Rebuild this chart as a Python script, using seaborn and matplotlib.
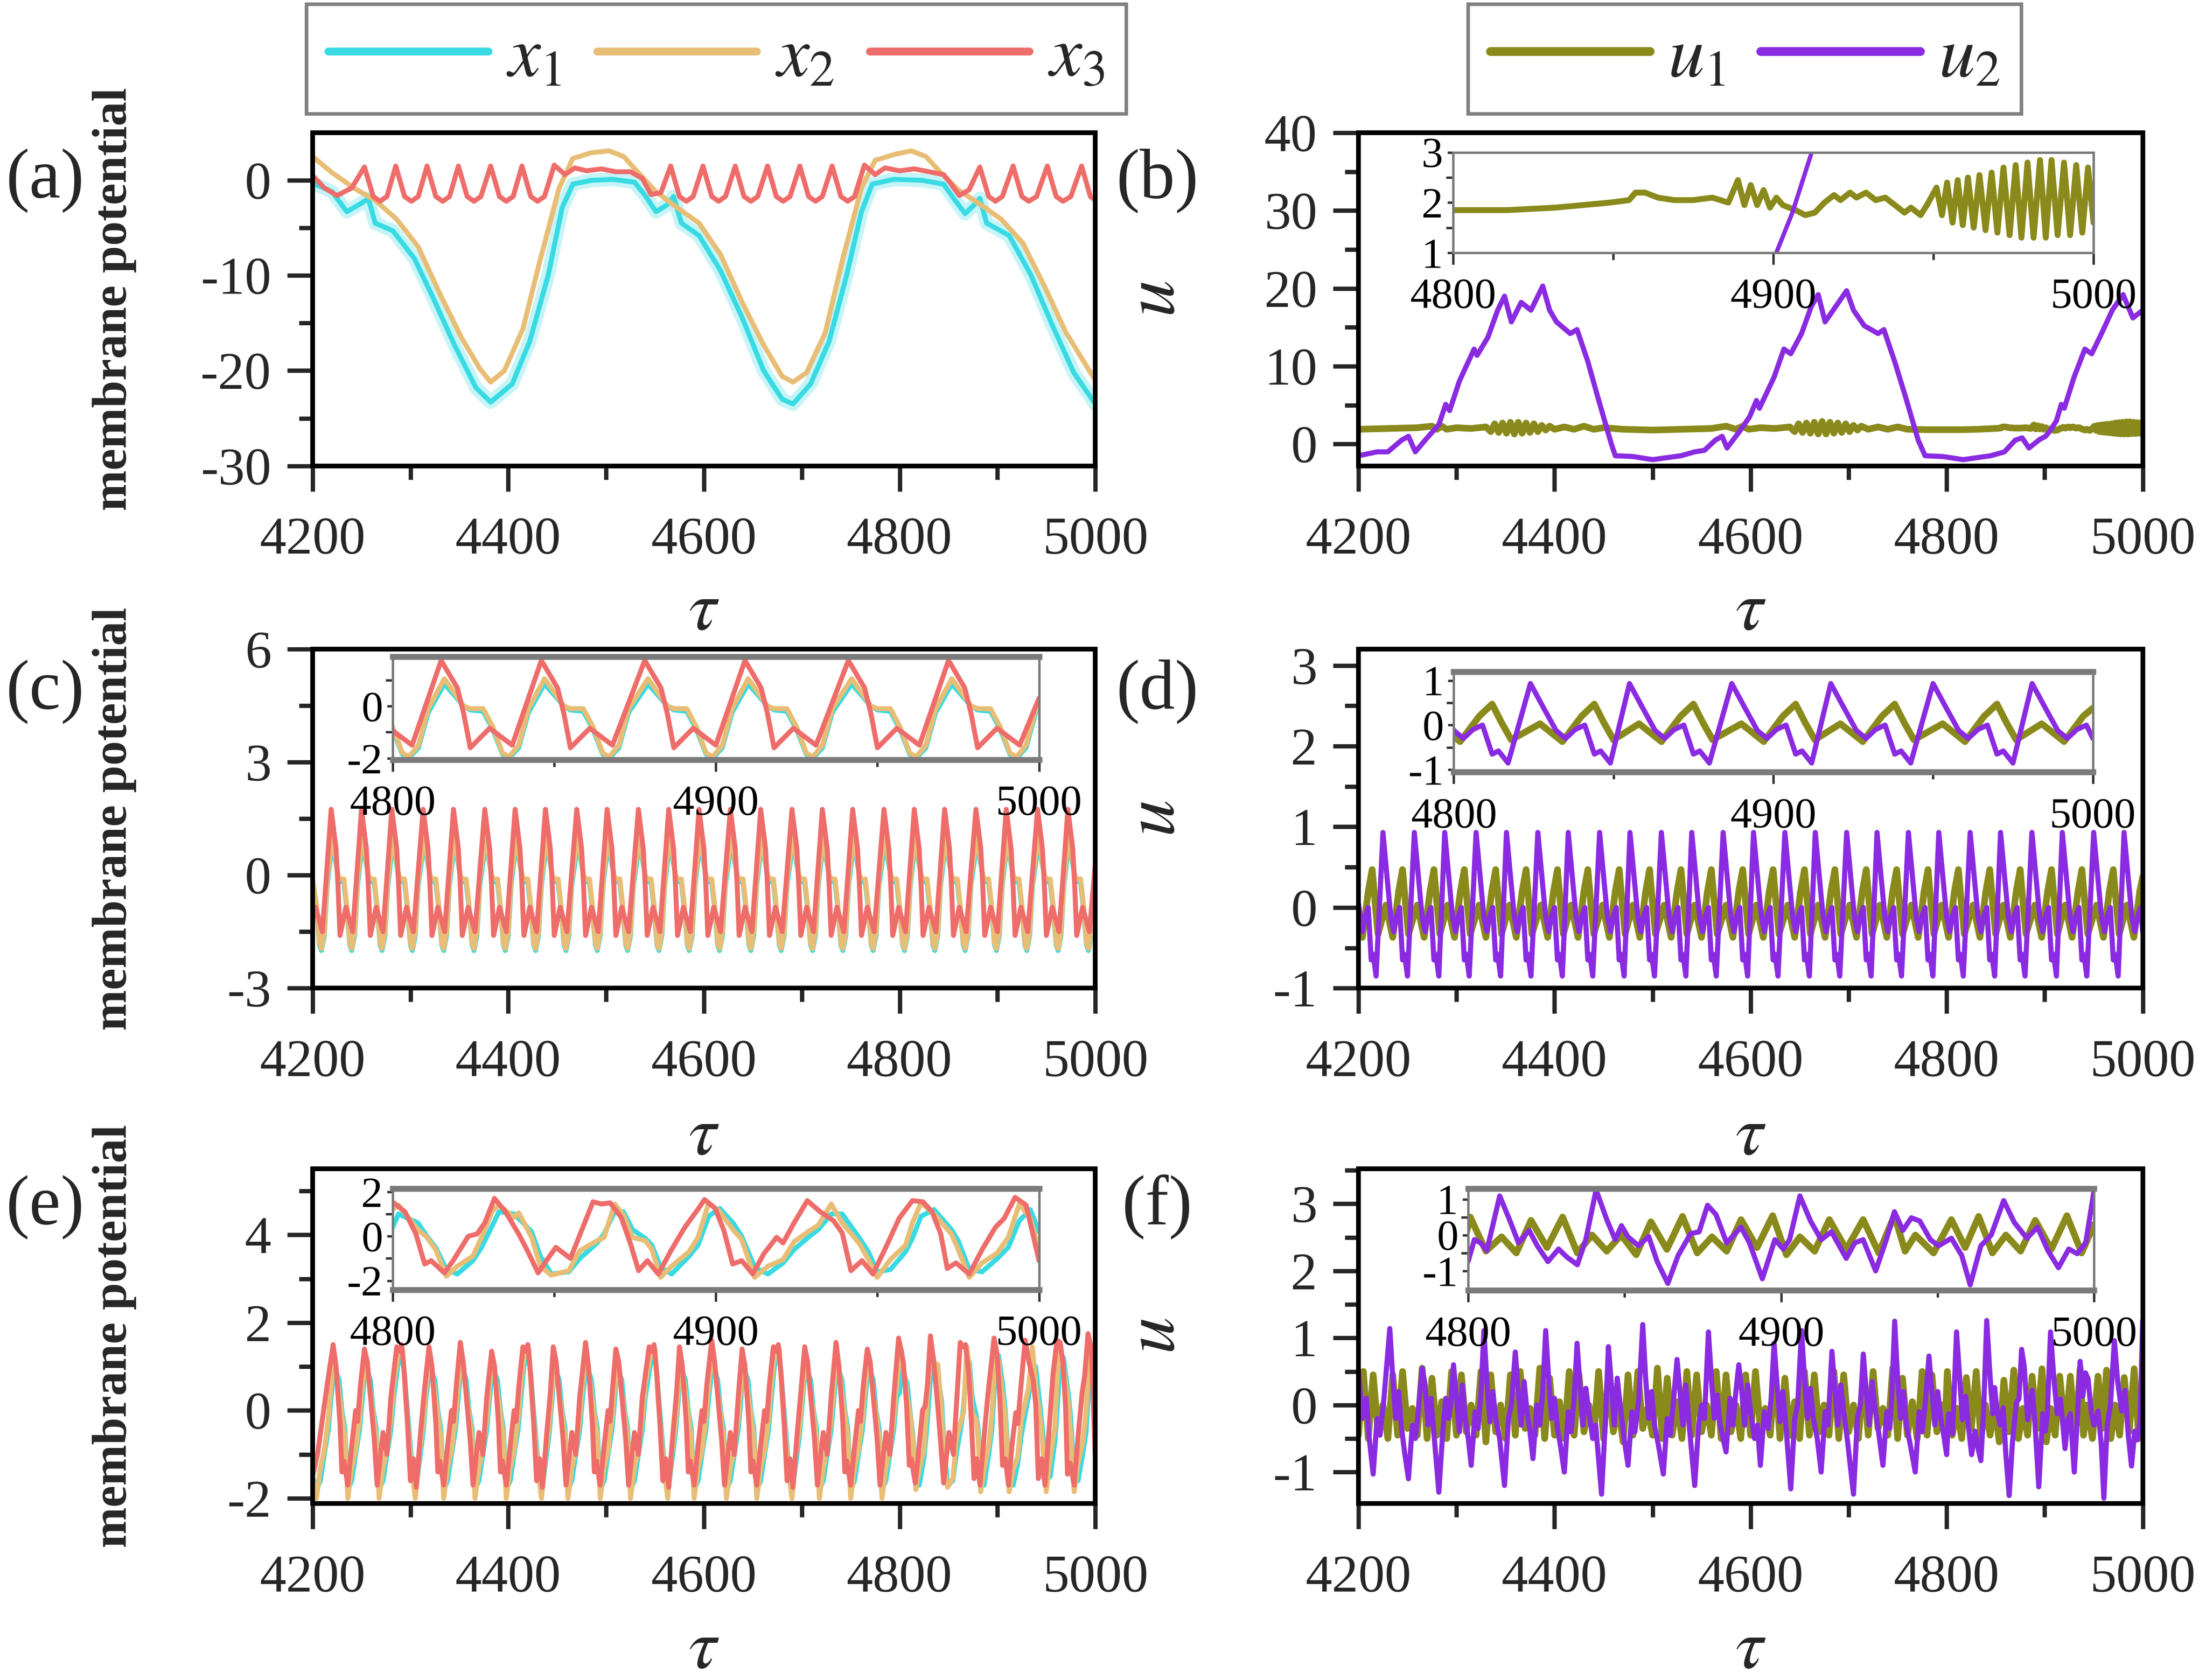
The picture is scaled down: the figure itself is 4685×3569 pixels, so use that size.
import matplotlib
matplotlib.use("Agg")
import matplotlib.pyplot as plt
from matplotlib.lines import Line2D
import numpy as np
import seaborn as sns

# colours picked from the figure
C_X1 = "#38dbe3"
C_X1_GLOW = "#b8f2f5"
C_X2 = "#e8bd76"
C_X3 = "#ee6d6a"
C_U1 = "#8a8a1c"
C_U2 = "#8a2be2"

X_TICKS = [4200, 4400, 4600, 4800, 5000]
X_MINOR = [4300, 4500, 4700, 4900]
INSET_TICKS = [4800, 4900, 5000]
INSET_MINOR = [4850, 4950]
PANEL_LABELS = ["(a)", "(b)", "(c)", "(d)", "(e)", "(f)"]

# ---------------- panel (a): membrane potential, bursting ----------------
T_A_X1 = [4200, 4220, 4235, 4250, 4257, 4264, 4282, 4304, 4323, 4345,
          4367, 4382, 4404, 4422, 4441, 4455, 4466, 4485, 4507, 4529,
          4540, 4551, 4562, 4569, 4577, 4595, 4617, 4639, 4661, 4680,
          4691, 4709, 4728, 4746, 4761, 4772, 4794, 4823, 4845, 4856,
          4867, 4876, 4882, 4889, 4912, 4934, 4956, 4978, 5000]
X1_A = [-0.3, -1.2, -3.3, -2.4, -1.9, -4.5, -5.3, -8.2, -12.3, -17.3,
        -21.8, -23.3, -21.4, -16.9, -9.9, -2.9, -0.4, 0.0, 0.1, -0.2,
        -1.6, -3.3, -2.6, -1.7, -4.5, -5.8, -9.5, -14.4, -20.0, -23.0,
        -23.5, -21.4, -16.9, -9.9, -3.3, -0.4, 0.1, 0.0, -0.4, -2.0,
        -3.5, -2.6, -1.9, -4.5, -5.8, -9.9, -15.2, -20.2, -23.5]
T_A_X2 = [4200, 4220, 4242, 4264, 4286, 4308, 4330, 4352, 4371, 4382,
          4396, 4415, 4433, 4452, 4466, 4485, 4503, 4518, 4533, 4551,
          4573, 4595, 4617, 4639, 4661, 4680, 4691, 4705, 4724, 4742,
          4761, 4775, 4794, 4812, 4827, 4842, 4860, 4882, 4904, 4926,
          4948, 4970, 5000]
X2_A = [2.5, 0.8, -0.8, -2.1, -4.1, -7.0, -11.9, -16.5, -19.8, -21.2,
        -20.0, -15.6, -8.2, -0.8, 2.3, 2.9, 3.1, 2.5, 0.8, -1.2,
        -2.9, -4.5, -7.8, -12.8, -17.3, -20.6, -21.2, -20.2, -16.0, -8.2,
        -0.8, 2.1, 2.7, 3.1, 2.5, 0.8, -1.0, -2.5, -4.1, -6.6,
        -11.1, -16.0, -21.0]
T_A_X3 = [4200, 4212, 4225, 4240, 4253,
          4262, 4269, 4276, 4285,
          4294, 4301, 4308, 4317,
          4326, 4333, 4340, 4349,
          4358, 4365, 4372, 4382,
          4391, 4398, 4405, 4414,
          4423, 4430, 4437, 4447,
          4458, 4468, 4480, 4495, 4510, 4525, 4537, 4546, 4556,
          4566, 4575, 4582, 4589,
          4599, 4608, 4615, 4622,
          4632, 4641, 4648, 4655,
          4665, 4674, 4681, 4688,
          4698, 4707, 4714, 4721,
          4731, 4740, 4747, 4754,
          4764, 4775, 4785, 4800, 4815, 4830, 4845, 4852, 4861, 4871,
          4882, 4891, 4898, 4905,
          4916, 4925, 4932, 4940,
          4951, 4960, 4967, 4975,
          4986, 4995, 5000]
X3_A = [0.5, -0.8, -1.6, -0.8, 1.4,
        -1.7, -2.2, -1.7, 1.5,
        -1.7, -2.2, -1.7, 1.5,
        -1.7, -2.2, -1.7, 1.5,
        -1.7, -2.2, -1.7, 1.5,
        -1.7, -2.2, -1.7, 1.5,
        -1.7, -2.2, -1.7, 1.6,
        0.6, 1.3, 1.0, 1.2, 0.9, 0.9, 0.2, -1.5, -1.3,
        1.5, -1.7, -2.2, -1.7,
        1.5, -1.7, -2.2, -1.7,
        1.5, -1.7, -2.2, -1.7,
        1.5, -1.7, -2.2, -1.7,
        1.5, -1.7, -2.2, -1.7,
        1.5, -1.7, -2.2, -1.7,
        1.6, 0.6, 1.3, 1.0, 1.2, 0.9, 0.6, -0.3, -1.6, -1.0,
        1.4, -1.7, -2.2, -1.7,
        1.5, -1.7, -2.2, -1.7,
        1.5, -1.7, -2.2, -1.7,
        1.5, -1.7, -2.1]

# ---------------- panel (b): u1, u2 ----------------
T_B_U1 = [4200, 4230, 4260, 4275, 4280, 4285, 4290, 4300, 4315, 4330,
          4335, 4339, 4343, 4347, 4351, 4355, 4359, 4363, 4367, 4371, 4375, 4379, 4383, 4387, 4391, 4395, 4400,
          4410, 4420, 4430, 4440, 4450, 4470, 4500, 4530, 4560, 4575, 4585, 4592, 4598, 4610, 4625, 4640,
          4645, 4649, 4653, 4657, 4661, 4665, 4669, 4673, 4677, 4681, 4685, 4689, 4693, 4697, 4701, 4705, 4709, 4713,
          4720, 4730, 4740, 4750, 4760, 4780,
          4800, 4817, 4832, 4849, 4855, 4857, 4860, 4864, 4869, 4875,
          4881, 4886, 4889, 4891, 4893, 4895, 4897, 4899, 4901, 4903,
          4907, 4910, 4913, 4916, 4919, 4921, 4924, 4926, 4929, 4932,
          4935, 4938, 4941, 4943, 4946, 4948,
          4951, 4952.7, 4954.3, 4956, 4957.6, 4959.2, 4960.8, 4962.6, 4964.4, 4966.3,
          4968.2, 4970, 4971.9, 4973.8, 4975.7, 4977.5, 4979.4, 4981.3, 4983.3, 4985.1,
          4986.9, 4988.8, 4990.8, 4992.7, 4994.6, 4996.5, 4998.3, 5000]
U1_B = [1.9, 2.0, 2.1, 2.3, 1.9, 2.3, 1.9, 2.1, 2.0, 2.2,
        1.6, 2.6, 1.5, 2.7, 1.4, 2.8, 1.3, 2.8, 1.4, 2.7, 1.5, 2.6, 1.6, 2.4, 1.8, 2.3, 1.9,
        2.2, 1.9, 2.3, 1.9, 2.1, 1.9, 1.8, 1.9, 2.0, 2.3, 1.9, 2.3, 1.9, 2.1, 2.0, 2.2,
        1.6, 2.6, 1.5, 2.7, 1.4, 2.8, 1.3, 2.9, 1.3, 2.8, 1.4, 2.7, 1.5, 2.6, 1.6, 2.4, 1.8, 2.3,
        1.9, 2.2, 1.9, 2.2, 1.9, 1.85,
        1.85, 1.85, 1.9, 2.0, 2.05, 2.2, 2.2, 2.1, 2.05, 2.05,
        2.1, 2.0, 2.45, 1.95, 2.35, 1.95, 2.25, 1.9, 2.1, 1.95,
        1.85, 1.75, 1.8, 2.0, 2.15, 2.05, 2.2, 2.1, 2.2, 2.05,
        2.1, 1.95, 1.8, 1.9, 1.75, 1.95,
        2.3, 1.75, 2.4, 1.6, 2.45, 1.55, 2.5, 1.5, 2.55, 1.45,
        2.6, 1.4, 2.7, 1.35, 2.75, 1.3, 2.8, 1.3, 2.85, 1.3,
        2.85, 1.35, 2.8, 1.35, 2.75, 1.4, 2.7, 1.6]
T_B_U2 = [4200, 4219, 4230, 4244, 4251, 4258, 4268, 4282, 4289, 4293,
          4303, 4318, 4321, 4332, 4342, 4349, 4356, 4366, 4376, 4388,
          4395, 4402, 4416, 4423, 4434, 4444, 4458, 4462, 4480, 4500,
          4529, 4543, 4553, 4564, 4571, 4576, 4588, 4599, 4606, 4609,
          4624, 4634, 4641, 4652, 4662, 4669, 4676, 4687, 4698, 4705,
          4716, 4730, 4736, 4747, 4758, 4771, 4778, 4796, 4817, 4845,
          4859, 4870, 4877, 4884, 4895, 4901, 4906, 4912, 4917, 4920,
          4930, 4941, 4948, 4958, 4969, 4980, 4990, 5000]
U2_B = [-1.5, -1.0, -1.0, 0.5, 1.0, -1.0, 0.5, 2.5, 5.1, 4.3,
        8.1, 12.2, 11.4, 13.7, 17.2, 19.0, 15.7, 18.2, 17.2, 20.3,
        17.2, 15.7, 14.2, 14.7, 10.6, 6.1, 0.0, -1.5, -1.6, -2.0,
        -1.5, -1.0, -0.8, 0.5, 1.0, -0.5, 1.5, 3.5, 5.6, 4.6,
        8.6, 12.2, 11.6, 14.2, 17.7, 19.2, 15.7, 17.7, 19.7, 17.2,
        15.2, 14.2, 14.7, 10.6, 6.1, 0.5, -1.5, -1.6, -2.0, -1.5,
        -1.0, 0.5, 0.8, -0.5, 0.6, 1.0, 1.8, 3.0, 5.1, 4.6,
        8.6, 12.2, 11.6, 14.2, 17.2, 19.2, 16.2, 17.2]

# ---------------- panel (c): membrane potential, periodic spiking ----------------
T_C_X3 = [4200, 4203, 4210,
          4219, 4224, 4226, 4228, 4234, 4241,
          4250, 4255, 4257, 4259, 4265, 4272,
          4281, 4286, 4288, 4290, 4296, 4303,
          4313, 4318, 4320, 4322, 4328, 4335,
          4344, 4349, 4351, 4353, 4359, 4366,
          4376, 4381, 4383, 4385, 4391, 4398,
          4407, 4412, 4414, 4416, 4422, 4429,
          4438, 4443, 4445, 4447, 4453, 4460,
          4470, 4475, 4477, 4479, 4485, 4492,
          4501, 4506, 4508, 4510, 4516, 4523,
          4533, 4538, 4540, 4542, 4548, 4555,
          4564, 4569, 4571, 4573, 4579, 4586,
          4595, 4600, 4602, 4604, 4610, 4617,
          4627, 4632, 4634, 4636, 4642, 4649,
          4658, 4663, 4665, 4667, 4673, 4680,
          4690, 4695, 4697, 4699, 4705, 4712,
          4721, 4726, 4728, 4730, 4736, 4743,
          4752, 4757, 4759, 4761, 4767, 4774,
          4784, 4789, 4791, 4793, 4799, 4806,
          4815, 4820, 4822, 4824, 4830, 4837,
          4846, 4851, 4853, 4855, 4861, 4868,
          4878, 4883, 4885, 4887, 4893, 4900,
          4909, 4914, 4916, 4918, 4924, 4931,
          4941, 4946, 4948, 4950, 4956, 4963,
          4972, 4977, 4979, 4981, 4987, 4994,
          5000]
X3_C = [-1.2, -0.85, -1.5,
        1.75, 0.7, -0.3, -1.6, -0.85, -1.5,
        1.75, 0.7, -0.3, -1.6, -0.85, -1.5,
        1.75, 0.7, -0.3, -1.6, -0.85, -1.5,
        1.75, 0.7, -0.3, -1.6, -0.85, -1.5,
        1.75, 0.7, -0.3, -1.6, -0.85, -1.5,
        1.75, 0.7, -0.3, -1.6, -0.85, -1.5,
        1.75, 0.7, -0.3, -1.6, -0.85, -1.5,
        1.75, 0.7, -0.3, -1.6, -0.85, -1.5,
        1.75, 0.7, -0.3, -1.6, -0.85, -1.5,
        1.75, 0.7, -0.3, -1.6, -0.85, -1.5,
        1.75, 0.7, -0.3, -1.6, -0.85, -1.5,
        1.75, 0.7, -0.3, -1.6, -0.85, -1.5,
        1.75, 0.7, -0.3, -1.6, -0.85, -1.5,
        1.75, 0.7, -0.3, -1.6, -0.85, -1.5,
        1.75, 0.7, -0.3, -1.6, -0.85, -1.5,
        1.75, 0.7, -0.3, -1.6, -0.85, -1.5,
        1.75, 0.7, -0.3, -1.6, -0.85, -1.5,
        1.75, 0.7, -0.3, -1.6, -0.85, -1.5,
        1.75, 0.7, -0.3, -1.6, -0.85, -1.5,
        1.75, 0.7, -0.3, -1.6, -0.85, -1.5,
        1.75, 0.7, -0.3, -1.6, -0.85, -1.5,
        1.75, 0.7, -0.3, -1.6, -0.85, -1.5,
        1.75, 0.7, -0.3, -1.6, -0.85, -1.5,
        1.75, 0.7, -0.3, -1.6, -0.85, -1.5,
        1.75, 0.7, -0.3, -1.6, -0.85, -1.5,
        0.3]
# x1 and x2 share the same sample times in (c)
T_C_X12 = [4200, 4204, 4207, 4209, 4212, 4215,
           4220, 4226, 4228, 4232, 4235, 4238, 4240, 4243, 4246,
           4251, 4257, 4259, 4263, 4266, 4269, 4271, 4274, 4277,
           4282, 4288, 4290, 4294, 4297, 4300, 4302, 4305, 4308,
           4314, 4320, 4322, 4326, 4329, 4332, 4334, 4337, 4340,
           4345, 4351, 4353, 4357, 4360, 4363, 4365, 4368, 4371,
           4377, 4383, 4385, 4389, 4392, 4395, 4397, 4400, 4403,
           4408, 4414, 4416, 4420, 4423, 4426, 4428, 4431, 4434,
           4439, 4445, 4447, 4451, 4454, 4457, 4459, 4462, 4465,
           4471, 4477, 4479, 4483, 4486, 4489, 4491, 4494, 4497,
           4502, 4508, 4510, 4514, 4517, 4520, 4522, 4525, 4528,
           4534, 4540, 4542, 4546, 4549, 4552, 4554, 4557, 4560,
           4565, 4571, 4573, 4577, 4580, 4583, 4585, 4588, 4591,
           4596, 4602, 4604, 4608, 4611, 4614, 4616, 4619, 4622,
           4628, 4634, 4636, 4640, 4643, 4646, 4648, 4651, 4654,
           4659, 4665, 4667, 4671, 4674, 4677, 4679, 4682, 4685,
           4691, 4697, 4699, 4703, 4706, 4709, 4711, 4714, 4717,
           4722, 4728, 4730, 4734, 4737, 4740, 4742, 4745, 4748,
           4753, 4759, 4761, 4765, 4768, 4771, 4773, 4776, 4779,
           4785, 4791, 4793, 4797, 4800, 4803, 4805, 4808, 4811,
           4816, 4822, 4824, 4828, 4831, 4834, 4836, 4839, 4842,
           4847, 4853, 4855, 4859, 4862, 4865, 4867, 4870, 4873,
           4879, 4885, 4887, 4891, 4894, 4897, 4899, 4902, 4905,
           4910, 4916, 4918, 4922, 4925, 4928, 4930, 4933, 4936,
           4942, 4948, 4950, 4954, 4957, 4960, 4962, 4965, 4968,
           4973, 4979, 4981, 4985, 4988, 4991, 4993, 4996, 4999,
           5000]
X2_C = [-0.1, -0.8, -1.8, -1.95, -1.5, -0.1,
        1.05, 0.0, -0.1, -0.1, -0.8, -1.8, -1.95, -1.5, -0.1,
        1.05, 0.0, -0.1, -0.1, -0.8, -1.8, -1.95, -1.5, -0.1,
        1.05, 0.0, -0.1, -0.1, -0.8, -1.8, -1.95, -1.5, -0.1,
        1.05, 0.0, -0.1, -0.1, -0.8, -1.8, -1.95, -1.5, -0.1,
        1.05, 0.0, -0.1, -0.1, -0.8, -1.8, -1.95, -1.5, -0.1,
        1.05, 0.0, -0.1, -0.1, -0.8, -1.8, -1.95, -1.5, -0.1,
        1.05, 0.0, -0.1, -0.1, -0.8, -1.8, -1.95, -1.5, -0.1,
        1.05, 0.0, -0.1, -0.1, -0.8, -1.8, -1.95, -1.5, -0.1,
        1.05, 0.0, -0.1, -0.1, -0.8, -1.8, -1.95, -1.5, -0.1,
        1.05, 0.0, -0.1, -0.1, -0.8, -1.8, -1.95, -1.5, -0.1,
        1.05, 0.0, -0.1, -0.1, -0.8, -1.8, -1.95, -1.5, -0.1,
        1.05, 0.0, -0.1, -0.1, -0.8, -1.8, -1.95, -1.5, -0.1,
        1.05, 0.0, -0.1, -0.1, -0.8, -1.8, -1.95, -1.5, -0.1,
        1.05, 0.0, -0.1, -0.1, -0.8, -1.8, -1.95, -1.5, -0.1,
        1.05, 0.0, -0.1, -0.1, -0.8, -1.8, -1.95, -1.5, -0.1,
        1.05, 0.0, -0.1, -0.1, -0.8, -1.8, -1.95, -1.5, -0.1,
        1.05, 0.0, -0.1, -0.1, -0.8, -1.8, -1.95, -1.5, -0.1,
        1.05, 0.0, -0.1, -0.1, -0.8, -1.8, -1.95, -1.5, -0.1,
        1.05, 0.0, -0.1, -0.1, -0.8, -1.8, -1.95, -1.5, -0.1,
        1.05, 0.0, -0.1, -0.1, -0.8, -1.8, -1.95, -1.5, -0.1,
        1.05, 0.0, -0.1, -0.1, -0.8, -1.8, -1.95, -1.5, -0.1,
        1.05, 0.0, -0.1, -0.1, -0.8, -1.8, -1.95, -1.5, -0.1,
        1.05, 0.0, -0.1, -0.1, -0.8, -1.8, -1.95, -1.5, -0.1,
        1.05, 0.0, -0.1, -0.1, -0.8, -1.8, -1.95, -1.5, -0.1,
        1.05, 0.0, -0.1, -0.1, -0.8, -1.8, -1.95, -1.5, -0.1,
        0.1]
X1_C = [-0.2, -0.9, -1.85, -2.0, -1.6, -0.25,
        0.85, 0.0, -0.15, -0.2, -0.9, -1.85, -2.0, -1.6, -0.25,
        0.85, 0.0, -0.15, -0.2, -0.9, -1.85, -2.0, -1.6, -0.25,
        0.85, 0.0, -0.15, -0.2, -0.9, -1.85, -2.0, -1.6, -0.25,
        0.85, 0.0, -0.15, -0.2, -0.9, -1.85, -2.0, -1.6, -0.25,
        0.85, 0.0, -0.15, -0.2, -0.9, -1.85, -2.0, -1.6, -0.25,
        0.85, 0.0, -0.15, -0.2, -0.9, -1.85, -2.0, -1.6, -0.25,
        0.85, 0.0, -0.15, -0.2, -0.9, -1.85, -2.0, -1.6, -0.25,
        0.85, 0.0, -0.15, -0.2, -0.9, -1.85, -2.0, -1.6, -0.25,
        0.85, 0.0, -0.15, -0.2, -0.9, -1.85, -2.0, -1.6, -0.25,
        0.85, 0.0, -0.15, -0.2, -0.9, -1.85, -2.0, -1.6, -0.25,
        0.85, 0.0, -0.15, -0.2, -0.9, -1.85, -2.0, -1.6, -0.25,
        0.85, 0.0, -0.15, -0.2, -0.9, -1.85, -2.0, -1.6, -0.25,
        0.85, 0.0, -0.15, -0.2, -0.9, -1.85, -2.0, -1.6, -0.25,
        0.85, 0.0, -0.15, -0.2, -0.9, -1.85, -2.0, -1.6, -0.25,
        0.85, 0.0, -0.15, -0.2, -0.9, -1.85, -2.0, -1.6, -0.25,
        0.85, 0.0, -0.15, -0.2, -0.9, -1.85, -2.0, -1.6, -0.25,
        0.85, 0.0, -0.15, -0.2, -0.9, -1.85, -2.0, -1.6, -0.25,
        0.85, 0.0, -0.15, -0.2, -0.9, -1.85, -2.0, -1.6, -0.25,
        0.85, 0.0, -0.15, -0.2, -0.9, -1.85, -2.0, -1.6, -0.25,
        0.85, 0.0, -0.15, -0.2, -0.9, -1.85, -2.0, -1.6, -0.25,
        0.85, 0.0, -0.15, -0.2, -0.9, -1.85, -2.0, -1.6, -0.25,
        0.85, 0.0, -0.15, -0.2, -0.9, -1.85, -2.0, -1.6, -0.25,
        0.85, 0.0, -0.15, -0.2, -0.9, -1.85, -2.0, -1.6, -0.25,
        0.85, 0.0, -0.15, -0.2, -0.9, -1.85, -2.0, -1.6, -0.25,
        0.85, 0.0, -0.15, -0.2, -0.9, -1.85, -2.0, -1.6, -0.25,
        0.0]

# ---------------- panel (d): u1, u2 periodic ----------------
T_D_U2 = [4200, 4204, 4207, 4210, 4213, 4215, 4218,
          4225, 4229, 4233, 4236, 4239, 4242, 4245, 4247, 4250,
          4257, 4261, 4265, 4268, 4271, 4274, 4277, 4279, 4282,
          4288, 4292, 4296, 4299, 4302, 4305, 4308, 4310, 4313,
          4320, 4324, 4328, 4331, 4334, 4337, 4340, 4342, 4345,
          4351, 4355, 4359, 4362, 4365, 4368, 4371, 4373, 4376,
          4383, 4387, 4391, 4394, 4397, 4400, 4403, 4405, 4408,
          4414, 4418, 4422, 4425, 4428, 4431, 4434, 4436, 4439,
          4446, 4450, 4454, 4457, 4460, 4463, 4466, 4468, 4471,
          4477, 4481, 4485, 4488, 4491, 4494, 4497, 4499, 4502,
          4509, 4513, 4517, 4520, 4523, 4526, 4529, 4531, 4534,
          4540, 4544, 4548, 4551, 4554, 4557, 4560, 4562, 4565,
          4572, 4576, 4580, 4583, 4586, 4589, 4592, 4594, 4597,
          4603, 4607, 4611, 4614, 4617, 4620, 4623, 4625, 4628,
          4635, 4639, 4643, 4646, 4649, 4652, 4655, 4657, 4660,
          4666, 4670, 4674, 4677, 4680, 4683, 4686, 4688, 4691,
          4698, 4702, 4706, 4709, 4712, 4715, 4718, 4720, 4723,
          4729, 4733, 4737, 4740, 4743, 4746, 4749, 4751, 4754,
          4761, 4765, 4769, 4772, 4775, 4778, 4781, 4783, 4786,
          4792, 4796, 4800, 4803, 4806, 4809, 4812, 4814, 4817,
          4824, 4828, 4832, 4835, 4838, 4841, 4844, 4846, 4849,
          4855, 4859, 4863, 4866, 4869, 4872, 4875, 4877, 4880,
          4887, 4891, 4895, 4898, 4901, 4904, 4907, 4909, 4912,
          4918, 4922, 4926, 4929, 4932, 4935, 4938, 4940, 4943,
          4950, 4954, 4958, 4961, 4964, 4967, 4970, 4972, 4975,
          4981, 4985, 4989, 4992, 4995, 4998, 5000]
U2_D = [0.05, -0.3, -0.1, 0.0, -0.65, -0.58, -0.85,
        0.93, 0.4, -0.12, -0.3, -0.1, 0.0, -0.65, -0.58, -0.85,
        0.93, 0.4, -0.12, -0.3, -0.1, 0.0, -0.65, -0.58, -0.85,
        0.93, 0.4, -0.12, -0.3, -0.1, 0.0, -0.65, -0.58, -0.85,
        0.93, 0.4, -0.12, -0.3, -0.1, 0.0, -0.65, -0.58, -0.85,
        0.93, 0.4, -0.12, -0.3, -0.1, 0.0, -0.65, -0.58, -0.85,
        0.93, 0.4, -0.12, -0.3, -0.1, 0.0, -0.65, -0.58, -0.85,
        0.93, 0.4, -0.12, -0.3, -0.1, 0.0, -0.65, -0.58, -0.85,
        0.93, 0.4, -0.12, -0.3, -0.1, 0.0, -0.65, -0.58, -0.85,
        0.93, 0.4, -0.12, -0.3, -0.1, 0.0, -0.65, -0.58, -0.85,
        0.93, 0.4, -0.12, -0.3, -0.1, 0.0, -0.65, -0.58, -0.85,
        0.93, 0.4, -0.12, -0.3, -0.1, 0.0, -0.65, -0.58, -0.85,
        0.93, 0.4, -0.12, -0.3, -0.1, 0.0, -0.65, -0.58, -0.85,
        0.93, 0.4, -0.12, -0.3, -0.1, 0.0, -0.65, -0.58, -0.85,
        0.93, 0.4, -0.12, -0.3, -0.1, 0.0, -0.65, -0.58, -0.85,
        0.93, 0.4, -0.12, -0.3, -0.1, 0.0, -0.65, -0.58, -0.85,
        0.93, 0.4, -0.12, -0.3, -0.1, 0.0, -0.65, -0.58, -0.85,
        0.93, 0.4, -0.12, -0.3, -0.1, 0.0, -0.65, -0.58, -0.85,
        0.93, 0.4, -0.12, -0.3, -0.1, 0.0, -0.65, -0.58, -0.85,
        0.93, 0.4, -0.12, -0.3, -0.1, 0.0, -0.65, -0.58, -0.85,
        0.93, 0.4, -0.12, -0.3, -0.1, 0.0, -0.65, -0.58, -0.85,
        0.93, 0.4, -0.12, -0.3, -0.1, 0.0, -0.65, -0.58, -0.85,
        0.93, 0.4, -0.12, -0.3, -0.1, 0.0, -0.65, -0.58, -0.85,
        0.93, 0.4, -0.12, -0.3, -0.1, 0.0, -0.65, -0.58, -0.85,
        0.93, 0.4, -0.12, -0.3, -0.1, 0.0, -0.65, -0.58, -0.85,
        0.93, 0.4, -0.12, -0.3, -0.1, 0.0, -0.3]
T_D_U1 = [4200, 4204, 4210, 4214, 4217, 4220,
          4228, 4235, 4241, 4245, 4248, 4251,
          4260, 4267, 4273, 4277, 4280, 4283,
          4291, 4298, 4304, 4308, 4311, 4314,
          4323, 4330, 4336, 4340, 4343, 4346,
          4354, 4361, 4367, 4371, 4374, 4377,
          4386, 4393, 4399, 4403, 4406, 4409,
          4417, 4424, 4430, 4434, 4437, 4440,
          4449, 4456, 4462, 4466, 4469, 4472,
          4480, 4487, 4493, 4497, 4500, 4503,
          4512, 4519, 4525, 4529, 4532, 4535,
          4543, 4550, 4556, 4560, 4563, 4566,
          4575, 4582, 4588, 4592, 4595, 4598,
          4606, 4613, 4619, 4623, 4626, 4629,
          4638, 4645, 4651, 4655, 4658, 4661,
          4669, 4676, 4682, 4686, 4689, 4692,
          4701, 4708, 4714, 4718, 4721, 4724,
          4732, 4739, 4745, 4749, 4752, 4755,
          4764, 4771, 4777, 4781, 4784, 4787,
          4795, 4802, 4808, 4812, 4815, 4818,
          4827, 4834, 4840, 4844, 4847, 4850,
          4858, 4865, 4871, 4875, 4878, 4881,
          4890, 4897, 4903, 4907, 4910, 4913,
          4921, 4928, 4934, 4938, 4941, 4944,
          4953, 4960, 4966, 4970, 4973, 4976,
          4984, 4991, 4997, 5000]
U1_D = [-0.15, -0.37, 0.2, 0.47, 0.05, -0.33,
        0.03, -0.37, 0.2, 0.47, 0.05, -0.33,
        0.03, -0.37, 0.2, 0.47, 0.05, -0.33,
        0.03, -0.37, 0.2, 0.47, 0.05, -0.33,
        0.03, -0.37, 0.2, 0.47, 0.05, -0.33,
        0.03, -0.37, 0.2, 0.47, 0.05, -0.33,
        0.03, -0.37, 0.2, 0.47, 0.05, -0.33,
        0.03, -0.37, 0.2, 0.47, 0.05, -0.33,
        0.03, -0.37, 0.2, 0.47, 0.05, -0.33,
        0.03, -0.37, 0.2, 0.47, 0.05, -0.33,
        0.03, -0.37, 0.2, 0.47, 0.05, -0.33,
        0.03, -0.37, 0.2, 0.47, 0.05, -0.33,
        0.03, -0.37, 0.2, 0.47, 0.05, -0.33,
        0.03, -0.37, 0.2, 0.47, 0.05, -0.33,
        0.03, -0.37, 0.2, 0.47, 0.05, -0.33,
        0.03, -0.37, 0.2, 0.47, 0.05, -0.33,
        0.03, -0.37, 0.2, 0.47, 0.05, -0.33,
        0.03, -0.37, 0.2, 0.47, 0.05, -0.33,
        0.03, -0.37, 0.2, 0.47, 0.05, -0.33,
        0.03, -0.37, 0.2, 0.47, 0.05, -0.33,
        0.03, -0.37, 0.2, 0.47, 0.05, -0.33,
        0.03, -0.37, 0.2, 0.47, 0.05, -0.33,
        0.03, -0.37, 0.2, 0.47, 0.05, -0.33,
        0.03, -0.37, 0.2, 0.47, 0.05, -0.33,
        0.03, -0.37, 0.2, 0.47, 0.05, -0.33,
        0.03, -0.37, 0.2, 0.38]

# ---------------- panel (e): membrane potential, irregular ----------------
T_E_X3 = [4200, 4205, 4210, 4215,
          4221, 4224, 4228, 4230, 4232, 4236, 4240, 4244, 4246, 4249,
          4253, 4256, 4260, 4263, 4266, 4269, 4272, 4276, 4280,
          4286, 4289, 4291, 4294, 4297, 4300, 4303, 4306, 4310, 4314,
          4319, 4322, 4326, 4328, 4330, 4334, 4338, 4342, 4344, 4347,
          4351, 4354, 4358, 4361, 4364, 4367, 4370, 4374, 4378,
          4383, 4386, 4390, 4392, 4394, 4398, 4402, 4406, 4408, 4411,
          4415, 4418, 4420, 4423, 4426, 4429, 4432, 4435, 4439, 4443,
          4446, 4449, 4453, 4456, 4459, 4462, 4465, 4469, 4473,
          4479, 4482, 4486, 4488, 4490, 4494, 4498, 4502, 4504, 4507,
          4510, 4513, 4517, 4520, 4523, 4526, 4529, 4533, 4537,
          4544, 4547, 4549, 4552, 4555, 4558, 4561, 4564, 4568, 4572,
          4575, 4578, 4582, 4584, 4586, 4590, 4594, 4598, 4600, 4603,
          4608, 4611, 4615, 4618, 4621, 4624, 4627, 4631, 4635,
          4639, 4642, 4646, 4648, 4650, 4654, 4658, 4662, 4664, 4667,
          4671, 4674, 4676, 4679, 4682, 4685, 4688, 4691, 4695, 4699,
          4703, 4706, 4710, 4713, 4716, 4719, 4722, 4726, 4730,
          4735, 4738, 4742, 4744, 4746, 4750, 4754, 4758, 4760, 4763,
          4767, 4770, 4774, 4777, 4780, 4783, 4786, 4790, 4794,
          4799, 4803.8, 4807.2, 4809.9, 4811.9, 4816, 4818.7, 4823.4, 4826.1, 4828.5,
          4831.5, 4834.9, 4839, 4841.7, 4845, 4847.8, 4850.5, 4855, 4862, 4864.6,
          4867.3, 4870.7, 4873.5, 4876.1, 4878.8, 4882.2, 4886.3, 4890.4, 4894.4, 4896.5,
          4899.8, 4902.5, 4905.2, 4908, 4911.4, 4914.8, 4918.8, 4920.8, 4924.2, 4928.3,
          4932.3, 4936.4, 4939.1, 4941.8, 4945.2, 4948.6, 4952.6, 4956.7, 4960.8, 4964.1,
          4966.9, 4969.6, 4971.6, 4974.3, 4978.4, 4982.4, 4986.5, 4989.2, 4992.6, 4996,
          5000]
X3_E = [-1.5, -1.0, -0.2, 0.6,
        1.5, 1.0, -0.3, -1.4, -1.15, -1.7, -0.8, 0.0, -0.25, 0.6,
        1.4, 1.1, 0.1, -0.65, -1.7, -1.1, -0.5, -1.0, 0.3,
        1.45, 1.35, 1.5, 0.8, -0.3, -1.6, -1.1, -1.75, -0.6, 0.4,
        1.45, 1.0, -0.3, -1.4, -1.15, -1.7, -0.8, 0.0, -0.25, 0.6,
        1.55, 1.1, 0.1, -0.65, -1.7, -1.1, -0.5, -1.0, 0.3,
        1.35, 1.0, -0.3, -1.4, -1.15, -1.7, -0.8, 0.0, -0.25, 0.6,
        1.45, 1.35, 1.5, 0.8, -0.3, -1.6, -1.1, -1.75, -0.6, 0.4,
        1.45, 1.1, 0.1, -0.65, -1.7, -1.1, -0.5, -1.0, 0.3,
        1.55, 1.0, -0.3, -1.4, -1.15, -1.7, -0.8, 0.0, -0.25, 0.6,
        1.4, 1.1, 0.1, -0.65, -1.7, -1.1, -0.5, -1.0, 0.3,
        1.45, 1.35, 1.5, 0.8, -0.3, -1.6, -1.1, -1.75, -0.6, 0.4,
        1.45, 1.0, -0.3, -1.4, -1.15, -1.7, -0.8, 0.0, -0.25, 0.6,
        1.6, 1.1, 0.1, -0.65, -1.7, -1.1, -0.5, -1.0, 0.3,
        1.4, 1.0, -0.3, -1.4, -1.15, -1.7, -0.8, 0.0, -0.25, 0.6,
        1.45, 1.35, 1.5, 0.8, -0.3, -1.6, -1.1, -1.75, -0.6, 0.4,
        1.45, 1.1, 0.1, -0.65, -1.7, -1.1, -0.5, -1.0, 0.3,
        1.55, 1.0, -0.3, -1.4, -1.15, -1.7, -0.8, 0.0, -0.25, 0.6,
        1.4, 1.1, 0.1, -0.65, -1.7, -1.1, -0.5, -1.0, 0.3,
        1.65, 1.1, 0.1, -1.25, -1.1, -1.65, -1.1, 0.0, 0.1, 0.6,
        1.7, 1.1, 0.1, -0.65, -1.65, -1.05, -0.5, -1.0, 1.55, 1.45,
        1.5, 0.85, -0.3, -1.55, -1.1, -1.7, -0.6, 0.4, 1.2, 1.65,
        1.25, 0.25, -1.25, -1.1, -1.7, -0.8, -0.05, -0.3, 0.6, 1.6,
        1.1, 0.7, 0.15, -1.55, -1.1, -1.7, -0.5, 0.8, 1.6, 1.55,
        1.1, 0.1, -1.45, -1.2, -1.7, -0.6, 0.4, 0.8, 1.75, 1.4,
        -1.1]
# x1 and x2 share the same sample times in (e)
T_E_X12 = [4200, 4204, 4208, 4212, 4216, 4219,
           4222, 4227, 4230, 4233, 4236, 4240, 4244, 4248, 4251,
           4254, 4259, 4262, 4265, 4268, 4272, 4276, 4280, 4283,
           4287, 4292, 4295, 4298, 4301, 4305, 4309, 4313, 4316,
           4320, 4325, 4328, 4331, 4334, 4338, 4342, 4346, 4349,
           4352, 4357, 4360, 4363, 4366, 4370, 4374, 4378, 4381,
           4384, 4389, 4392, 4395, 4398, 4402, 4406, 4410, 4413,
           4416, 4421, 4424, 4427, 4430, 4434, 4438, 4442, 4445,
           4447, 4452, 4455, 4458, 4461, 4465, 4469, 4473, 4476,
           4480, 4485, 4488, 4491, 4494, 4498, 4502, 4506, 4509,
           4511, 4516, 4519, 4522, 4525, 4529, 4533, 4537, 4540,
           4545, 4550, 4553, 4556, 4559, 4563, 4567, 4571, 4574,
           4576, 4581, 4584, 4587, 4590, 4594, 4598, 4602, 4605,
           4609, 4614, 4617, 4620, 4623, 4627, 4631, 4635, 4638,
           4640, 4645, 4648, 4651, 4654, 4658, 4662, 4666, 4669,
           4672, 4677, 4680, 4683, 4686, 4690, 4694, 4698, 4701,
           4704, 4709, 4712, 4715, 4718, 4722, 4726, 4730, 4733,
           4736, 4741, 4744, 4747, 4750, 4754, 4758, 4762, 4765,
           4768, 4773, 4776, 4779, 4782, 4786, 4790, 4794, 4797,
           4800.0, 4801.8, 4807.8, 4810.6, 4813.3, 4816.6, 4820.0, 4824.8, 4827.5, 4830.9,
           4832.9, 4837.6, 4839.0, 4843.0, 4845.7, 4849.1, 4854.5, 4857.9, 4863.3, 4865.4,
           4868.7, 4871.4, 4874.2, 4878.2, 4880.2, 4882.9, 4886.3, 4891.7, 4894.5, 4897.8,
           4901.2, 4905.3, 4908.0, 4912.0, 4916.1, 4920.8, 4924.2, 4929.0, 4931.7, 4935.7,
           4939.1, 4944.5, 4947.2, 4949.9, 4954.0, 4958.7, 4960.8, 4963.5, 4967.5, 4972.9,
           4975.0, 4978.4, 4982.4, 4987.1, 4990.5, 4993.9, 4997.3, 5000.0]
X2_E = [-1.6, -2.0, -1.3, -0.9, -0.2, 0.6,
        1.3, 0.4, -0.1, -0.6, -2.0, -1.3, -0.9, -0.2, 0.6,
        1.25, 0.4, -0.1, -0.6, -2.0, -1.3, -0.9, -0.2, 0.6,
        1.2, 1.4, 0.3, -0.5, -1.3, -2.0, -1.0, -0.3, 0.5,
        1.3, 0.4, -0.1, -0.6, -2.0, -1.3, -0.9, -0.2, 0.6,
        1.35, 0.4, -0.1, -0.6, -2.0, -1.3, -0.9, -0.2, 0.6,
        1.2, 0.4, -0.1, -0.6, -2.0, -1.3, -0.9, -0.2, 0.6,
        1.2, 1.4, 0.3, -0.5, -1.3, -2.0, -1.0, -0.3, 0.5,
        1.3, 0.4, -0.1, -0.6, -2.0, -1.3, -0.9, -0.2, 0.6,
        1.35, 0.4, -0.1, -0.6, -2.0, -1.3, -0.9, -0.2, 0.6,
        1.25, 0.4, -0.1, -0.6, -2.0, -1.3, -0.9, -0.2, 0.6,
        1.2, 1.4, 0.3, -0.5, -1.3, -2.0, -1.0, -0.3, 0.5,
        1.3, 0.4, -0.1, -0.6, -2.0, -1.3, -0.9, -0.2, 0.6,
        1.4, 0.4, -0.1, -0.6, -2.0, -1.3, -0.9, -0.2, 0.6,
        1.25, 0.4, -0.1, -0.6, -2.0, -1.3, -0.9, -0.2, 0.6,
        1.2, 1.4, 0.3, -0.5, -1.3, -2.0, -1.0, -0.3, 0.5,
        1.3, 0.4, -0.1, -0.6, -2.0, -1.3, -0.9, -0.2, 0.6,
        1.35, 0.4, -0.1, -0.6, -2.0, -1.3, -0.9, -0.2, 0.6,
        1.25, 0.4, -0.1, -0.6, -2.0, -1.3, -0.9, -0.2, 0.6,
        1.2, 1.4, 0.3, -0.05, -0.6, -1.8, -1.35, -0.9, -0.05, 1.15,
        1.4, 0.85, 1.05, -0.05, -1.35, -1.75, -1.55, -0.65, -0.2, -0.05,
        1.45, 0.95, -0.05, -0.2, -0.6, -1.85, -1.35, -0.7, -0.05, 1.5,
        1.1, 0.3, -0.15, -1.85, -1.35, -1.05, -0.25, 0.25, 0.5, 1.45,
        0.6, -0.35, -1.05, -1.85, -1.05, -0.4, 0.6, 1.5, 1.0, 0.1,
        -0.6, -1.85, -1.2, -0.75, -0.05, 1.45, 0.8, -0.6]
X1_E = [-1.5, -1.8, -1.6, -1.0, -0.45, 0.3,
        1.0, 0.7, 0.0, -0.4, -1.8, -1.6, -1.0, -0.45, 0.3,
        1.0, 0.7, 0.0, -0.4, -1.8, -1.6, -1.0, -0.45, 0.3,
        1.0, 1.3, 0.5, -0.3, -1.1, -1.9, -1.2, -0.5, 0.3,
        1.0, 0.7, 0.0, -0.4, -1.8, -1.6, -1.0, -0.45, 0.3,
        1.05, 0.7, 0.0, -0.4, -1.8, -1.6, -1.0, -0.45, 0.3,
        0.95, 0.7, 0.0, -0.4, -1.8, -1.6, -1.0, -0.45, 0.3,
        1.0, 1.3, 0.5, -0.3, -1.1, -1.9, -1.2, -0.5, 0.3,
        1.0, 0.7, 0.0, -0.4, -1.8, -1.6, -1.0, -0.45, 0.3,
        1.05, 0.7, 0.0, -0.4, -1.8, -1.6, -1.0, -0.45, 0.3,
        1.0, 0.7, 0.0, -0.4, -1.8, -1.6, -1.0, -0.45, 0.3,
        1.0, 1.3, 0.5, -0.3, -1.1, -1.9, -1.2, -0.5, 0.3,
        1.0, 0.7, 0.0, -0.4, -1.8, -1.6, -1.0, -0.45, 0.3,
        1.1, 0.7, 0.0, -0.4, -1.8, -1.6, -1.0, -0.45, 0.3,
        1.0, 0.7, 0.0, -0.4, -1.8, -1.6, -1.0, -0.45, 0.3,
        1.0, 1.3, 0.5, -0.3, -1.1, -1.9, -1.2, -0.5, 0.3,
        1.0, 0.7, 0.0, -0.4, -1.8, -1.6, -1.0, -0.45, 0.3,
        1.05, 0.7, 0.0, -0.4, -1.8, -1.6, -1.0, -0.45, 0.3,
        1.0, 0.7, 0.0, -0.4, -1.8, -1.6, -1.0, -0.45, 0.3,
        0.4, 1.0, 0.6, 0.0, -0.5, -1.5, -1.7, -1.1, -0.5, 0.5,
        1.1, 1.0, 0.8, 0.2, -0.9, -1.7, -1.6, -1.0, -0.3, 0.1,
        1.1, 1.1, 0.3, -0.1, -0.4, -1.4, -1.7, -0.9, -0.4, 0.9,
        1.25, 0.6, 0.0, -1.4, -1.7, -1.2, -0.6, 0.0, 0.3, 1.0,
        1.0, -0.1, -0.7, -1.6, -1.5, -0.7, -0.1, 0.9, 1.2, 0.3,
        -0.2, -1.5, -1.6, -1.0, -0.5, 0.7, 1.2, 0.2]

# ---------------- panel (f): u1, u2 irregular ----------------
T_F_U1 = [4200, 4205, 4210, 4215, 4220, 4225, 4230, 4235, 4240, 4245, 4250, 4255,
          4260, 4265, 4270, 4275, 4280, 4285, 4290, 4295, 4300, 4305, 4310, 4315,
          4320, 4325, 4330, 4335, 4340, 4345, 4350, 4355, 4360, 4365, 4370, 4375,
          4380, 4385, 4390, 4395, 4400, 4405, 4410, 4415, 4420, 4425, 4430, 4435,
          4440, 4445, 4450, 4455, 4460, 4465, 4470, 4475, 4480, 4485, 4490, 4495,
          4500, 4505, 4510, 4515, 4520, 4525, 4530, 4535, 4540, 4545, 4550, 4555,
          4560, 4565, 4570, 4575, 4580, 4585, 4590, 4595, 4600, 4605, 4610, 4615,
          4620, 4625, 4630, 4635, 4640, 4645, 4650, 4655, 4660, 4665, 4670, 4675,
          4680, 4685, 4690, 4695, 4700, 4705, 4710, 4715, 4720, 4725, 4730, 4735,
          4740, 4745, 4750, 4755, 4760, 4765, 4770, 4775, 4780, 4785, 4790, 4795,
          4798.0, 4800.7, 4805.7, 4810.7, 4815.4, 4820.1, 4825.2, 4830.2, 4834.9, 4839.6,
          4844.3, 4848.9, 4853.7, 4858.4, 4863.5, 4868.5, 4873.2, 4877.9, 4882.6, 4887.2,
          4892.3, 4897.3, 4901.7, 4906.0, 4910.7, 4915.4, 4920.8, 4926.2, 4931.2, 4936.2,
          4939.6, 4942.9, 4948.7, 4954.4, 4958.8, 4963.1, 4967.5, 4971.8, 4976.5, 4981.2,
          4986.3, 4991.3, 4996.0, 5000.0]
U1_F = [-0.45, 0.5, -0.5, 0.45, -0.4, 0.0, -0.5, 0.45, -0.45, 0.5, -0.35, -0.05,
        -0.45, 0.55, -0.5, 0.4, -0.45, 0.05, -0.5, 0.5, -0.45, 0.45, -0.4, 0.0,
        -0.45, 0.5, -0.55, 0.45, -0.4, 0.0, -0.5, 0.45, -0.45, 0.5, -0.35, -0.05,
        -0.45, 0.55, -0.5, 0.4, -0.45, 0.05, -0.5, 0.5, -0.45, 0.45, -0.4, 0.0,
        -0.45, 0.5, -0.5, 0.45, -0.4, 0.0, -0.55, 0.45, -0.45, 0.5, -0.35, -0.05,
        -0.45, 0.55, -0.5, 0.4, -0.45, 0.05, -0.5, 0.5, -0.45, 0.45, -0.4, 0.0,
        -0.45, 0.5, -0.5, 0.45, -0.4, 0.0, -0.5, 0.45, -0.45, 0.5, -0.35, -0.05,
        -0.45, 0.55, -0.5, 0.4, -0.45, 0.05, -0.5, 0.5, -0.45, 0.45, -0.4, 0.0,
        -0.45, 0.5, -0.5, 0.45, -0.4, 0.0, -0.5, 0.45, -0.45, 0.5, -0.35, -0.05,
        -0.45, 0.55, -0.5, 0.4, -0.45, 0.05, -0.5, 0.5, -0.45, 0.45, -0.4, 0.0,
        -0.45, 0.5, -0.45, -0.05, -0.5, 0.41, -0.35, 0.5, -0.5, 0.0,
        -0.45, 0.0, -0.55, 0.37, -0.4, 0.52, -0.5, -0.05, -0.45, 0.43,
        -0.35, 0.54, -0.55, -0.05, -0.45, 0.43, -0.4, 0.43, -0.5, 0.55,
        -0.45, 0.0, -0.5, 0.43, -0.35, 0.52, -0.5, 0.0, -0.45, 0.41,
        -0.4, 0.54, -0.5, 0.3]
T_F_U2 = [4200, 4204, 4208, 4211, 4215, 4219, 4222, 4226,
          4232, 4235, 4238, 4241, 4244, 4247, 4251, 4255, 4258, 4261,
          4265, 4268, 4271, 4274, 4278, 4282, 4286, 4289, 4292, 4294,
          4297, 4300, 4303, 4306, 4309, 4312, 4315, 4319, 4322, 4325,
          4328, 4331, 4334, 4337, 4340, 4344, 4349, 4353, 4356,
          4360, 4363, 4366, 4369, 4372, 4375, 4378, 4382, 4385, 4388,
          4391, 4394, 4397, 4400, 4403, 4406, 4410, 4414, 4417, 4420,
          4423, 4426, 4429, 4432, 4435, 4439, 4442, 4448, 4452,
          4455, 4458, 4461, 4464, 4467, 4471, 4475, 4479, 4482, 4486,
          4490, 4493, 4496, 4499, 4502, 4506, 4511, 4515, 4518, 4521,
          4525, 4528, 4531, 4534, 4538, 4543, 4547, 4550, 4553,
          4557, 4560, 4563, 4566, 4569, 4572, 4575, 4579, 4582, 4585,
          4588, 4591, 4594, 4597, 4600, 4604, 4607, 4610, 4614, 4618, 4621,
          4624, 4627, 4630, 4633, 4636, 4641, 4645, 4648,
          4652, 4655, 4658, 4661, 4664, 4668, 4672, 4676, 4679,
          4683, 4686, 4689, 4692, 4695, 4699, 4705, 4709, 4712,
          4715, 4718, 4721, 4724, 4727, 4731, 4735, 4739, 4742, 4744,
          4747, 4750, 4753, 4756, 4759, 4763, 4768, 4772, 4775, 4778,
          4782, 4785, 4788, 4791, 4794, 4797,
          4800, 4802.0, 4804.0, 4806.0, 4810.1, 4813.4, 4816.1, 4819.5, 4822.1, 4825.5,
          4828.9, 4831.5, 4834.9, 4837.6, 4840.9, 4844.3, 4847.0, 4849.0, 4851.0, 4854.4,
          4857.7, 4860.4, 4863.8, 4867.1, 4871.1, 4873.8, 4876.5, 4879.2, 4882.6, 4887.2,
          4889.9, 4894.0, 4898.0, 4900.7, 4902.7, 4906.0, 4909.4, 4912.8, 4916.1, 4920.8,
          4923.5, 4926.2, 4930.2, 4933.6, 4936.2, 4938.9, 4941.6, 4944.3, 4947.7, 4950.3,
          4954.4, 4957.7, 4960.4, 4963.8, 4967.1, 4971.1, 4974.5, 4978.5, 4981.9, 4985.2,
          4988.6, 4991.9, 4994.6, 4997.3, 5000]
U2_F = [0.5, -0.2, 0.1, -0.5, -1.03, -0.2, -0.45, 0.1,
        1.14, 0.4, -0.2, 0.2, -0.35, -0.7, -1.1, -0.3, -0.5, -0.1,
        0.55, 0.3, -0.3, 0.1, -0.6, -1.3, -0.4, 0.1, -0.2, 0.0,
        0.6, 0.1, -0.4, 0.3, -0.2, -0.5, -0.9, -0.1, -0.35, 0.2,
        1.11, 0.35, -0.25, 0.2, -0.2, -0.5, -1.2, -0.2, 0.0,
        0.79, 0.2, -0.3, 0.35, -0.1, -0.4, -0.8, 0.0, -0.3, 0.2,
        1.11, 0.4, -0.2, 0.1, -0.35, -0.6, -1.0, -0.1, -0.4, 0.1,
        0.92, 0.3, -0.3, 0.25, -0.1, -0.5, -0.3, -1.33, -0.2,
        0.87, 0.3, -0.3, 0.4, 0.0, -0.5, -0.9, -0.1, -0.4, 0.1,
        1.2, 0.4, -0.2, 0.2, -0.3, -0.6, -1.03, -0.2, -0.45, 0.0,
        0.68, 0.2, -0.3, 0.3, -0.4, -1.2, -0.3, 0.0, -0.2,
        1.09, 0.4, -0.2, 0.15, -0.3, -0.5, -0.7, 0.1, -0.3, 0.2,
        0.6, 0.2, -0.3, 0.3, -0.1, -0.5, -0.3, -0.9, -0.1, -0.35, 0.1,
        0.92, 0.3, -0.25, 0.2, -0.3, -1.25, -0.2, 0.0,
        1.11, 0.4, -0.2, 0.25, -0.2, -0.5, -1.0, -0.1, -0.3,
        0.8, 0.25, -0.3, 0.3, -0.1, -0.55, -1.33, -0.2, 0.0,
        0.76, 0.2, -0.3, 0.35, -0.05, -0.45, -0.9, -0.1, -0.35, 0.1,
        1.25, 0.4, -0.2, 0.2, -0.3, -0.6, -1.0, -0.1, -0.4, 0.0,
        0.73, 0.2, -0.3, 0.2, -0.2, -0.45,
        -0.74, -0.13, -0.22, -0.43, 1.09, 0.39, -0.22, 0.13, -0.3, -0.74,
        -0.39, -0.61, -0.83, -0.13, 1.26, 0.43, -0.13, 0.26, -0.04, -0.3,
        -0.04, -0.74, -1.35, -0.57, 0.04, 0.09, 0.83, 0.57, -0.22, 0.22,
        -0.22, -1.22, -0.13, -0.39, -0.13, 1.09, 0.39, -0.13, 0.09, -0.65,
        -0.22, -0.13, -1.0, -0.13, 0.65, 0.13, 0.48, 0.39, -0.13, -0.3,
        -0.09, -0.57, -1.39, -0.3, 0.0, 0.96, 0.35, -0.09, 0.22, -0.43,
        -0.91, -0.39, -0.52, -0.22, 1.26]

# ---------------- layout (figure fractions) ----------------
AX_RECTS = [
    [0.1417, 0.7227, 0.3548, 0.1983], [0.6158, 0.7227, 0.3555, 0.1983],
    [0.1417, 0.4118, 0.3548, 0.2017], [0.6158, 0.4118, 0.3555, 0.2017],
    [0.1417, 0.1050, 0.3548, 0.1992], [0.6158, 0.1050, 0.3555, 0.1992],
]
INSET_RECTS = {
    1: [0.6586, 0.8496, 0.2904, 0.0596],
    2: [0.1780, 0.5479, 0.2930, 0.0613],
    3: [0.6590, 0.5405, 0.2897, 0.0598],
    4: [0.1780, 0.2324, 0.2930, 0.0602],
    5: [0.6655, 0.2320, 0.2838, 0.0606],
}

sns.set_style("ticks")
plt.rcParams["font.family"] = ["Liberation Serif", "DejaVu Serif"]
plt.rcParams["mathtext.fontset"] = "stix"
plt.rcParams["axes.unicode_minus"] = False

fig = plt.figure(figsize=(4685 / 300, 3569 / 300), dpi=300)
fig.patch.set_facecolor("white")

LW_X = 2.5
LW_U1 = 3.4
LW_U2 = 2.6


def draw(ax, t, v, color, lw, glow=None):
    t = np.asarray(t, dtype=float)
    v = np.asarray(v, dtype=float)
    if glow is not None:
        sns.lineplot(x=t, y=v, ax=ax, color=glow, linewidth=lw * 2.8, alpha=0.8,
                     estimator=None, sort=False, legend=False)
    sns.lineplot(x=t, y=v, ax=ax, color=color, linewidth=lw,
                 estimator=None, sort=False, legend=False)


def style_main(ax, ylim, yticks, yminor):
    ax.set_xlim(4200, 5000)
    ax.set_ylim(*ylim)
    ax.set_xticks(X_TICKS)
    ax.set_xticks(X_MINOR, minor=True)
    ax.set_yticks(yticks)
    ax.set_yticks(yminor, minor=True)
    ax.tick_params(which="major", direction="out", length=13, width=2.2,
                   labelsize=27, top=False, right=False)
    ax.tick_params(axis="x", which="major", pad=13)
    ax.tick_params(axis="y", which="major", pad=8)
    ax.tick_params(which="minor", direction="out", length=7, width=2.2,
                   top=False, right=False)
    for s in ax.spines.values():
        s.set_linewidth(2.4)
        s.set_color("black")
    ax.set_xlabel(r"$\tau$", fontsize=36, va="center")
    ax.xaxis.set_label_coords(0.5, -0.44)


def style_inset(ax, ylim, yticks, yminor, thick=True):
    ax.set_facecolor("white")
    ax.set_xlim(4800, 5000)
    ax.set_ylim(*ylim)
    ax.set_xticks(INSET_TICKS)
    ax.set_xticks(INSET_MINOR, minor=True)
    ax.set_yticks(yticks)
    ax.set_yticks(yminor, minor=True)
    ax.tick_params(which="major", direction="out", length=6, width=1.2,
                   labelsize=22, colors="#333333", labelcolor="black")
    ax.tick_params(axis="x", which="major", pad=7)
    ax.tick_params(axis="y", which="major", pad=2, length=3)
    ax.tick_params(which="minor", direction="out", length=3.5, width=1.2,
                   colors="#333333")
    for name, s in ax.spines.items():
        s.set_color("#7a7a7a")
        s.set_linewidth(3.0 if (thick and name in ("top", "bottom")) else 1.2)
    ax.set_xlabel("")
    ax.set_ylabel("")


axes = [fig.add_axes(r) for r in AX_RECTS]

# (a)
ax = axes[0]
draw(ax, T_A_X1, X1_A, C_X1, LW_X, glow=C_X1_GLOW)
draw(ax, T_A_X2, X2_A, C_X2, LW_X)
draw(ax, T_A_X3, X3_A, C_X3, LW_X)
style_main(ax, (-30, 5), [-30, -20, -10, 0], [-25, -15, -5])

# (b)
ax = axes[1]
draw(ax, T_B_U1, U1_B, C_U1, LW_U1)
draw(ax, T_B_U2, U2_B, C_U2, LW_U2)
style_main(ax, (-2.8, 40), [0, 10, 20, 30, 40], [5, 15, 25, 35])

# (c)
ax = axes[2]
draw(ax, T_C_X12, X1_C, C_X1, LW_X)
draw(ax, T_C_X12, X2_C, C_X2, LW_X)
draw(ax, T_C_X3, X3_C, C_X3, LW_X)
style_main(ax, (-3, 6), [-3, 0, 3, 6], [-1.5, 1.5, 4.5])

# (d)
ax = axes[3]
draw(ax, T_D_U1, U1_D, C_U1, LW_U1)
draw(ax, T_D_U2, U2_D, C_U2, LW_U2)
style_main(ax, (-1, 3.2), [-1, 0, 1, 2, 3], [-0.5, 0.5, 1.5, 2.5])

# (e)
ax = axes[4]
draw(ax, T_E_X12, X1_E, C_X1, LW_X)
draw(ax, T_E_X12, X2_E, C_X2, LW_X)
draw(ax, T_E_X3, X3_E, C_X3, LW_X)
style_main(ax, (-2.12, 5.5), [-2, 0, 2, 4], [-1, 1, 3, 5])

# (f)
ax = axes[5]
draw(ax, T_F_U1, U1_F, C_U1, LW_U1)
draw(ax, T_F_U2, U2_F, C_U2, LW_U2)
style_main(ax, (-1.47, 3.52), [-1, 0, 1, 2, 3], [-0.5, 0.5, 1.5, 2.5, 3.5])

# y labels
for i in (0, 2, 4):
    axes[i].set_ylabel("membrane potential", fontsize=25, fontweight="bold")
    axes[i].yaxis.set_label_coords(-0.225, 0.5)
for i in (1, 3, 5):
    axes[i].set_ylabel(r"$u$", fontsize=38)
    axes[i].yaxis.set_label_coords(-0.215, 0.5)

# insets (same series, zoomed to 4800-5000)
ins = fig.add_axes(INSET_RECTS[1])
draw(ins, T_B_U1, U1_B, C_U1, 3.0)
draw(ins, T_B_U2, U2_B, C_U2, 2.2)
style_inset(ins, (1, 3), [1, 2, 3], [1.5, 2.5], thick=False)

ins = fig.add_axes(INSET_RECTS[2])
draw(ins, T_C_X12, X1_C, C_X1, LW_X)
draw(ins, T_C_X12, X2_C, C_X2, LW_X)
draw(ins, T_C_X3, X3_C, C_X3, LW_X)
style_inset(ins, (-2.05, 1.9), [-2, 0], [-1, 1])

ins = fig.add_axes(INSET_RECTS[3])
draw(ins, T_D_U1, U1_D, C_U1, LW_U1)
draw(ins, T_D_U2, U2_D, C_U2, LW_U2)
style_inset(ins, (-1.05, 1.2), [-1, 0, 1], [-0.5, 0.5])

ins = fig.add_axes(INSET_RECTS[4])
draw(ins, T_E_X12, X1_E, C_X1, LW_X)
draw(ins, T_E_X12, X2_E, C_X2, LW_X)
draw(ins, T_E_X3, X3_E, C_X3, LW_X)
style_inset(ins, (-2.4, 2.15), [-2, 0, 2], [-1, 1])

ins = fig.add_axes(INSET_RECTS[5])
draw(ins, T_F_U1, U1_F, C_U1, LW_U1)
draw(ins, T_F_U2, U2_F, C_U2, LW_U2)
style_inset(ins, (-1.54, 1.3), [-1, 0, 1], [-0.5, 0.5])

# panel letters
letter_pos = [(0.0204, 0.8924), (0.5246, 0.8924), (0.0204, 0.5882),
              (0.5246, 0.5882), (0.0204, 0.2815), (0.5246, 0.2815)]
for lab, (x, y) in zip(PANEL_LABELS, letter_pos):
    fig.text(x, y, lab, fontsize=36, ha="center", va="center")

# legends (flush with the given boxes)
h_x = [Line2D([], [], color=c, lw=4) for c in (C_X1, C_X2, C_X3)]
leg = fig.legend(h_x, [r"$x_1$", r"$x_2$", r"$x_3$"], loc="upper left",
                 bbox_to_anchor=(0.139, 0.931, 0.3716, 0.0665), mode="expand",
                 borderaxespad=0.0, ncol=3, fontsize=37, handlelength=2.2,
                 handletextpad=0.25, columnspacing=0.7, borderpad=0.3,
                 frameon=True, fancybox=False, edgecolor="#808080", framealpha=1)
leg.get_frame().set_linewidth(1.8)

h_u = [Line2D([], [], color=c, lw=4.5) for c in (C_U1, C_U2)]
leg = fig.legend(h_u, [r"$u_1$", r"$u_2$"], loc="upper left",
                 bbox_to_anchor=(0.6656, 0.931, 0.2508, 0.0665), mode="expand",
                 borderaxespad=0.0, ncol=2, fontsize=37, handlelength=2.2,
                 handletextpad=0.25, columnspacing=0.7, borderpad=0.3,
                 frameon=True, fancybox=False, edgecolor="#808080", framealpha=1)
leg.get_frame().set_linewidth(1.8)

fig.savefig("out.png", dpi=300)
